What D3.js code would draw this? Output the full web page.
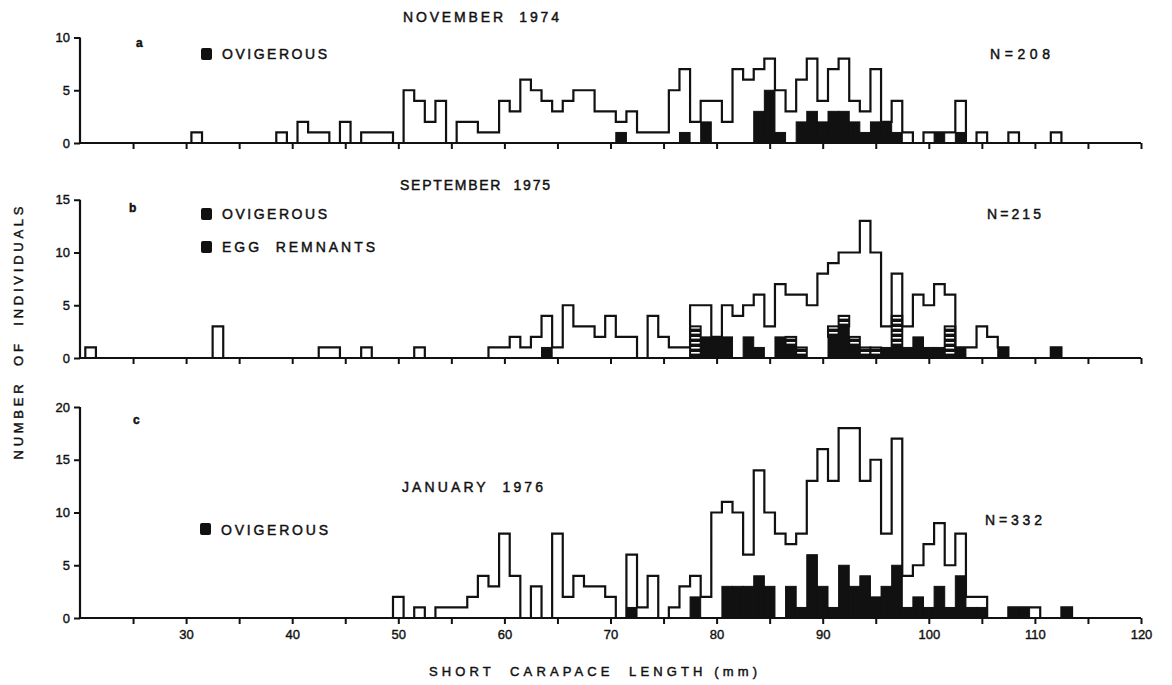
<!DOCTYPE html>
<html>
<head>
<meta charset="utf-8">
<script src="https://cdn.jsdelivr.net/npm/d3@7"></script>
<style>
  body { margin: 0; background: #fff; }
  svg text { font-family: "Liberation Sans", Arial, sans-serif; fill: #111; }
</style>
</head>
<body>
<div id="app"></div>
<script>
// [size class (mm), number of individuals]
const novTotal = [[31,1],[39,1],[41,2],[42,1],[43,1],[45,2],[47,1],[48,1],[49,1],[51,5],[52,4],[53,2],[54,4],
  [56,2],[57,2],[58,1],[59,1],[60,4],[61,3],[62,6],[63,5],[64,4],[65,3],[66,4],[67,5],[68,5],[69,3],[70,3],
  [71,2],[72,3],[73,1],[74,1],[75,1],[76,5],[77,7],[78,2],[79,4],[80,4],[81,2],[82,7],[83,6],[84,7],[85,8],
  [86,5],[87,3],[88,6],[89,8],[90,4],[91,7],[92,8],[93,4],[94,3],[95,7],[96,2],[97,4],[98,1],[100,1],[101,1],
  [102,1],[103,4],[105,1],[108,1],[112,1]];
const novOvig = [[71,1],[77,1],[79,2],[84,3],[85,5],[86,1],[88,2],[89,3],[90,2],[91,3],[92,3],[93,2],[94,1],
  [95,2],[96,2],[97,1],[101,1],[103,1]];

const sepTotal = [[21,1],[33,3],[43,1],[44,1],[47,1],[52,1],[59,1],[60,1],[61,2],[62,1],[63,2],[64,4],[65,1],
  [66,5],[67,3],[68,3],[69,2],[70,4],[71,2],[72,2],[74,4],[75,2],[76,1],[77,1],[78,5],[79,5],[80,2],[81,5],
  [82,4],[83,5],[84,6],[85,3],[86,7],[87,6],[88,6],[89,5],[90,8],[91,9],[92,10],[93,10],[94,13],[95,10],[96,3],
  [97,8],[98,3],[99,6],[100,5],[101,7],[102,6],[103,1],[104,1],[105,3],[106,2],[107,1],[112,1]];
const sepOvig = [[64,1],[79,2],[80,2],[81,2],[83,2],[84,1],[86,2],[87,1],[91,2],[92,3],[93,1],[96,1],[97,1],
  [98,1],[99,2],[100,1],[101,1],[103,1],[107,1],[112,1]];
const sepEgg = [[78,3],[87,1],[88,1],[91,1],[92,1],[93,1],[94,1],[95,1],[97,3],[102,3]];

const janTotal = [[50,2],[52,1],[54,1],[55,1],[56,1],[57,2],[58,4],[59,3],[60,8],[61,4],[63,3],[65,8],[66,2],
  [67,4],[68,3],[69,3],[70,2],[72,6],[73,1],[74,4],[76,1],[77,3],[78,4],[79,2],[80,10],[81,11],[82,10],[83,6],
  [84,14],[85,10],[86,8],[87,7],[88,8],[89,13],[90,16],[91,13],[92,18],[93,18],[94,13],[95,15],[96,8],[97,17],
  [98,4],[99,5],[100,7],[101,9],[102,5],[103,8],[104,2],[105,2],[108,1],[109,1],[110,1],[113,1]];
const janOvig = [[72,1],[78,2],[81,3],[82,3],[83,3],[84,4],[85,3],[87,3],[88,1],[89,6],[90,3],[91,1],[92,5],
  [93,3],[94,4],[95,2],[96,3],[97,5],[98,1],[99,2],[100,1],[101,3],[102,1],[103,4],[104,1],[105,1],[108,1],
  [109,1],[113,1]];

const xTicks = d3.range(25, 121, 5);

const W = 1172, H = 685;
const svg = d3.select("#app").append("svg").attr("width", W).attr("height", H);

svg.append("defs").append("pattern")
  .attr("id", "eggs").attr("patternUnits", "userSpaceOnUse")
  .attr("width", 8).attr("height", 5)
  .call(p => {
    p.append("rect").attr("width", 8).attr("height", 5).attr("fill", "#111");
    p.append("rect").attr("y", 2).attr("width", 8).attr("height", 1.6).attr("fill", "#fff");
  });

const x = d3.scaleLinear().domain([20, 120]).range([80, 1141]);
const unit = 10.55;

const panels = [
  { key: "a", base: 143, max: 10, total: novTotal, ovig: novOvig, egg: [] },
  { key: "b", base: 358, max: 15, total: sepTotal, ovig: sepOvig, egg: sepEgg },
  { key: "c", base: 618, max: 20, total: janTotal, ovig: janOvig, egg: [] }
];

panels.forEach((p, i) => {
  const y = d3.scaleLinear().domain([0, p.max]).range([p.base, p.base - p.max * unit]);
  const g = svg.append("g");

  // ovigerous (solid)
  g.selectAll(".ov").data(p.ovig).join("rect")
    .attr("x", d => x(d[0] - 0.5)).attr("width", x(1) - x(0))
    .attr("y", d => y(d[1])).attr("height", d => y(0) - y(d[1]))
    .attr("fill", "#111").attr("stroke", "#111").attr("stroke-width", 1);

  // egg remnants (striped), stacked on top of ovigerous
  const ovMap = new Map(p.ovig);
  g.selectAll(".egg").data(p.egg).join("rect")
    .attr("x", d => x(d[0] - 0.5)).attr("width", x(1) - x(0))
    .attr("y", d => y(d[1] + (ovMap.get(d[0]) || 0)))
    .attr("height", d => y(0) - y(d[1]))
    .attr("fill", "url(#eggs)").attr("stroke", "#111").attr("stroke-width", 2);

  // outline of all individuals
  const m = new Map(p.total);
  const ks = p.total.map(d => d[0]);
  const k0 = d3.min(ks), k1 = d3.max(ks);
  const pts = [[k0, 0]].concat(d3.range(k0, k1 + 1).map(k => [k, m.get(k) || 0]), [[k1 + 1, 0]]);
  const line = d3.line().x(d => x(d[0] - 0.5)).y(d => y(d[1])).curve(d3.curveStepAfter);
  g.append("path").attr("d", line(pts))
    .attr("fill", "none").attr("stroke", "#111").attr("stroke-width", 2.2);

  // axes
  const last = i === panels.length - 1;
  const ax = g.append("g").attr("transform", `translate(0,${p.base})`)
    .call(d3.axisBottom(x).tickValues(xTicks).tickSize(6).tickSizeOuter(0).tickPadding(6)
      .tickFormat(d => (last && d % 10 === 0) ? d : ""));
  const ay = g.append("g").attr("transform", `translate(${x(20)},0)`)
    .call(d3.axisLeft(y).tickValues(d3.range(0, p.max + 1, 5)).tickSize(6).tickSizeOuter(0).tickPadding(4));
  [ax, ay].forEach(a => {
    a.select(".domain").attr("stroke", "#111").attr("stroke-width", 2.2);
    a.selectAll(".tick line").attr("stroke", "#111").attr("stroke-width", 2);
    a.selectAll("text").attr("font-size", 13).attr("font-family", "Liberation Sans, Arial, sans-serif")
      .attr("fill", "#111").attr("stroke", "#111").attr("stroke-width", 0.4);
  });
  ax.select(".domain").attr("d", `M${x(20)},0H${x(120)}`);
  ay.select(".domain").attr("d", `M0,${y(0)}V${y(p.max)}`);
});

// text
function label(txt, px, py, size, len, anchor) {
  const t = svg.append("text").attr("x", px).attr("y", py).attr("font-size", size)
    .attr("stroke", "#111").attr("stroke-width", 0.45)
    .attr("text-anchor", anchor || "start").style("white-space", "pre").text(txt);
  if (len) t.attr("textLength", len).attr("lengthAdjust", "spacing");
  return t;
}
function key(px, py) {
  svg.append("rect").attr("x", px).attr("y", py).attr("width", 11).attr("height", 12)
    .attr("rx", 2).attr("fill", "#111");
}

label("NOVEMBER  1974", 403, 22, 14, 156);
label("a", 136, 47, 12).attr("font-weight", "bold");
key(201, 48); label("OVIGEROUS", 222, 59, 14, 105);
label("N=208", 990, 59, 14, 60);

label("SEPTEMBER  1975", 400, 190, 14, 150);
label("b", 129, 212, 12).attr("font-weight", "bold");
key(201, 208); label("OVIGEROUS", 222, 219, 14, 105);
key(201, 241); label("EGG  REMNANTS", 222, 252, 14, 153);
label("N=215", 987, 219, 14, 54);

label("c", 133, 424, 12).attr("font-weight", "bold");
label("JANUARY  1976", 402, 492, 14, 141);
key(200, 523); label("OVIGEROUS", 221, 535, 14, 107);
label("N=332", 985, 525, 14, 57);

label("SHORT  CARAPACE  LENGTH (mm)", 593, 676, 13, 328, "middle");
label("NUMBER  OF  INDIVIDUALS", 0, 0, 13, 253, "middle")
  .attr("transform", "translate(23,333) rotate(-90)").attr("x", 0).attr("y", 0);
</script>
</body>
</html>
